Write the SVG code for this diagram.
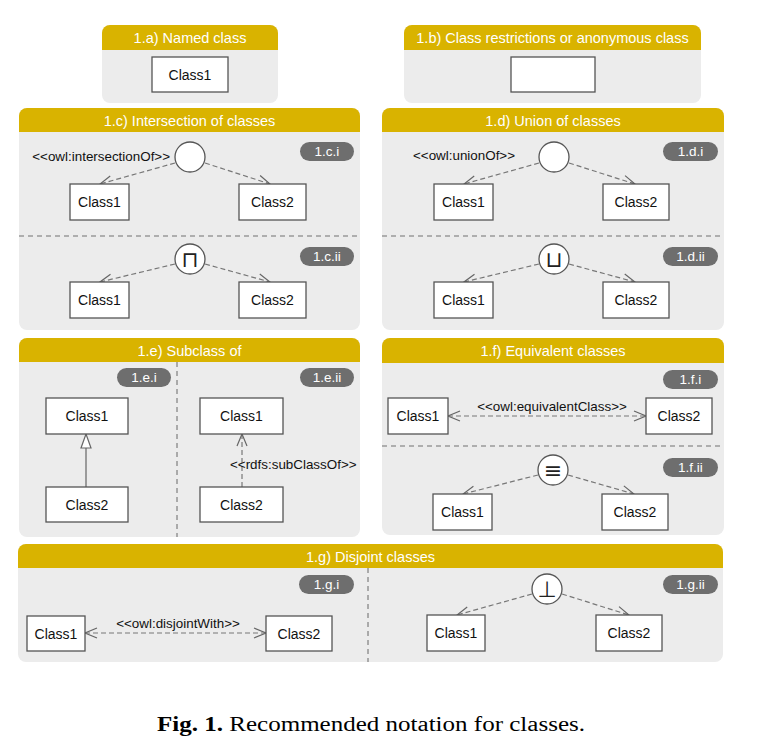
<svg xmlns="http://www.w3.org/2000/svg" width="765" height="745" viewBox="0 0 765 745">
<style>
.panel{fill:#ececec}
.hdr{fill:#d9b300}
.htxt{font-family:"Liberation Sans",Arial,sans-serif;font-size:14.5px;fill:#fff;text-anchor:middle}
.box{fill:#fff;stroke:#555;stroke-width:1.3}
.ctxt{font-family:"Liberation Sans",Arial,sans-serif;font-size:14px;fill:#111;text-anchor:middle}
.stxt{font-family:"Liberation Sans",Arial,sans-serif;font-size:13.4px;fill:#111}
.badge{fill:#6e6e6e}
.btxt{font-family:"Liberation Sans",Arial,sans-serif;font-size:13.5px;fill:#fff;text-anchor:middle}
.sep{stroke:#999;stroke-width:1.6;stroke-dasharray:5,4;fill:none}
.dash{stroke:#777;stroke-width:1.2;stroke-dasharray:5,3;fill:none}
.solid{stroke:#666;stroke-width:1.2;fill:none}
.circ{fill:#fff;stroke:#555;stroke-width:1.3}
.sym{font-family:"DejaVu Sans",sans-serif;font-size:22px;fill:#222;text-anchor:middle}
.cap{font-family:"Liberation Serif","Times New Roman",serif;font-size:20px;fill:#000}
</style>
<defs>
<marker id="open" markerWidth="14" markerHeight="12" refX="13" refY="6" orient="auto" markerUnits="userSpaceOnUse">
<path d="M1,1 L13,6 L1,11" fill="none" stroke="#666" stroke-width="1.2"/>
</marker>
<marker id="openStart" markerWidth="14" markerHeight="12" refX="1" refY="6" orient="auto" markerUnits="userSpaceOnUse">
<path d="M13,1 L1,6 L13,11" fill="none" stroke="#666" stroke-width="1.2"/>
</marker>
<marker id="tri" markerWidth="16" markerHeight="12" refX="15" refY="6" orient="auto" markerUnits="userSpaceOnUse">
<path d="M1,1 L15,6 L1,11 Z" fill="#fff" stroke="#666" stroke-width="1.2"/>
</marker>
</defs>

<!-- Panels -->
<g id="panel-1a">
<rect class="panel" x="102" y="25" width="176" height="78" rx="8"/>
<path class="hdr" d="M102,50 V33 A8,8 0 0 1 110,25 H270 A8,8 0 0 1 278,33 V50 Z"/>
<text class="htxt" x="190" y="43">1.a) Named class</text>
</g>
<g id="panel-1b">
<rect class="panel" x="404" y="25" width="297" height="78" rx="8"/>
<path class="hdr" d="M404,50 V33 A8,8 0 0 1 412,25 H693 A8,8 0 0 1 701,33 V50 Z"/>
<text class="htxt" x="552.5" y="43">1.b) Class restrictions or anonymous class</text>
</g>
<g id="panel-1c">
<rect class="panel" x="19" y="108" width="341" height="222" rx="8"/>
<path class="hdr" d="M19,132 V116 A8,8 0 0 1 27,108 H352 A8,8 0 0 1 360,116 V132 Z"/>
<text class="htxt" x="189.5" y="126">1.c) Intersection of classes</text>
<line class="sep" x1="19" y1="236" x2="360" y2="236"/>
<rect class="badge" x="300" y="142" width="54" height="19" rx="9.5"/>
<text class="btxt" x="327" y="156">1.c.i</text>
<rect class="badge" x="300" y="247" width="54" height="19" rx="9.5"/>
<text class="btxt" x="327" y="261">1.c.ii</text>
</g>
<g id="panel-1d">
<rect class="panel" x="382" y="108" width="342" height="222" rx="8"/>
<path class="hdr" d="M382,132 V116 A8,8 0 0 1 390,108 H716 A8,8 0 0 1 724,116 V132 Z"/>
<text class="htxt" x="553" y="126">1.d) Union of classes</text>
<line class="sep" x1="382" y1="236" x2="724" y2="236"/>
<rect class="badge" x="663" y="142" width="55" height="19" rx="9.5"/>
<text class="btxt" x="690.5" y="156">1.d.i</text>
<rect class="badge" x="663" y="247" width="55" height="19" rx="9.5"/>
<text class="btxt" x="690.5" y="261">1.d.ii</text>
</g>
<g id="panel-1e">
<rect class="panel" x="19" y="338" width="341" height="199" rx="8"/>
<path class="hdr" d="M19,362 V346 A8,8 0 0 1 27,338 H352 A8,8 0 0 1 360,346 V362 Z"/>
<text class="htxt" x="189.5" y="356">1.e) Subclass of</text>
<line class="sep" x1="177" y1="362" x2="177" y2="537"/>
<rect class="badge" x="117" y="368" width="54" height="19" rx="9.5"/>
<text class="btxt" x="144" y="382">1.e.i</text>
<rect class="badge" x="300" y="368" width="54" height="19" rx="9.5"/>
<text class="btxt" x="327" y="382">1.e.ii</text>
</g>
<g id="panel-1f">
<rect class="panel" x="382" y="338" width="342" height="197" rx="8"/>
<path class="hdr" d="M382,363 V346 A8,8 0 0 1 390,338 H716 A8,8 0 0 1 724,346 V363 Z"/>
<text class="htxt" x="553" y="356">1.f) Equivalent classes</text>
<line class="sep" x1="382" y1="446" x2="724" y2="446"/>
<rect class="badge" x="663" y="370" width="55" height="19" rx="9.5"/>
<text class="btxt" x="690.5" y="384">1.f.i</text>
<rect class="badge" x="663" y="458" width="55" height="19" rx="9.5"/>
<text class="btxt" x="690.5" y="472">1.f.ii</text>
</g>
<g id="panel-1g">
<rect class="panel" x="18" y="544" width="705" height="118" rx="8"/>
<path class="hdr" d="M18,568 V552 A8,8 0 0 1 26,544 H715 A8,8 0 0 1 723,552 V568 Z"/>
<text class="htxt" x="370.5" y="562">1.g) Disjoint classes</text>
<line class="sep" x1="368" y1="568" x2="368" y2="662"/>
<rect class="badge" x="299" y="575" width="55" height="19" rx="9.5"/>
<text class="btxt" x="326.5" y="589">1.g.i</text>
<rect class="badge" x="663" y="575" width="55" height="19" rx="9.5"/>
<text class="btxt" x="690.5" y="589">1.g.ii</text>
</g>

<!-- Connectors -->
<g id="connectors">
<line class="dash" x1="175" y1="163" x2="100" y2="184" marker-end="url(#open)"/>
<line class="dash" x1="205" y1="163" x2="270" y2="184" marker-end="url(#open)"/>
<line class="dash" x1="175" y1="264" x2="100" y2="282" marker-end="url(#open)"/>
<line class="dash" x1="205" y1="264" x2="270" y2="282" marker-end="url(#open)"/>
<line class="dash" x1="539" y1="163" x2="464" y2="184" marker-end="url(#open)"/>
<line class="dash" x1="569" y1="163" x2="635" y2="184" marker-end="url(#open)"/>
<line class="dash" x1="539" y1="264" x2="464" y2="282" marker-end="url(#open)"/>
<line class="dash" x1="569" y1="264" x2="635" y2="282" marker-end="url(#open)"/>
<line class="solid" x1="86" y1="487" x2="86" y2="434" marker-end="url(#tri)"/>
<line class="dash" x1="242" y1="487" x2="242" y2="434" marker-end="url(#open)"/>
<line class="dash" x1="448" y1="416" x2="646" y2="416" marker-start="url(#openStart)" marker-end="url(#open)"/>
<line class="dash" x1="538" y1="475" x2="463" y2="494" marker-end="url(#open)"/>
<line class="dash" x1="568" y1="475" x2="634" y2="494" marker-end="url(#open)"/>
<line class="dash" x1="85" y1="633" x2="266" y2="633" marker-start="url(#openStart)" marker-end="url(#open)"/>
<line class="dash" x1="532" y1="594" x2="457" y2="615" marker-end="url(#open)"/>
<line class="dash" x1="562" y1="594" x2="629" y2="615" marker-end="url(#open)"/>
</g>

<!-- Nodes -->
<g id="n1a-class1"><rect class="box" x="152" y="57" width="76" height="35"/><text class="ctxt" x="190" y="79.5">Class1</text></g>
<g id="n1b-anon"><rect class="box" x="511" y="57" width="84" height="35"/></g>

<g id="n1ci-op"><circle class="circ" cx="190" cy="157" r="15"/><text class="stxt" x="170" y="161" text-anchor="end">&lt;&lt;owl:intersectionOf&gt;&gt;</text></g>
<g id="n1ci-class1"><rect class="box" x="70" y="184" width="59" height="36"/><text class="ctxt" x="99.5" y="207">Class1</text></g>
<g id="n1ci-class2"><rect class="box" x="239" y="184" width="67" height="36"/><text class="ctxt" x="272.5" y="207">Class2</text></g>
<g id="n1cii-op"><circle class="circ" cx="190" cy="259" r="15"/><text class="sym" x="190" y="267">⊓</text></g>
<g id="n1cii-class1"><rect class="box" x="70" y="282" width="59" height="36"/><text class="ctxt" x="99.5" y="305">Class1</text></g>
<g id="n1cii-class2"><rect class="box" x="239" y="282" width="67" height="36"/><text class="ctxt" x="272.5" y="305">Class2</text></g>

<g id="n1di-op"><circle class="circ" cx="554" cy="157" r="15"/><text class="stxt" x="413" y="160">&lt;&lt;owl:unionOf&gt;&gt;</text></g>
<g id="n1di-class1"><rect class="box" x="434" y="184" width="59" height="36"/><text class="ctxt" x="463.5" y="207">Class1</text></g>
<g id="n1di-class2"><rect class="box" x="603" y="184" width="66" height="36"/><text class="ctxt" x="636" y="207">Class2</text></g>
<g id="n1dii-op"><circle class="circ" cx="554" cy="259" r="15"/><text class="sym" x="554" y="267">⊔</text></g>
<g id="n1dii-class1"><rect class="box" x="434" y="282" width="59" height="36"/><text class="ctxt" x="463.5" y="305">Class1</text></g>
<g id="n1dii-class2"><rect class="box" x="603" y="282" width="66" height="36"/><text class="ctxt" x="636" y="305">Class2</text></g>

<g id="n1ei-class1"><rect class="box" x="46" y="398" width="82" height="36"/><text class="ctxt" x="87" y="421">Class1</text></g>
<g id="n1ei-class2"><rect class="box" x="46" y="487" width="82" height="35"/><text class="ctxt" x="87" y="509.5">Class2</text></g>
<g id="n1eii-class1"><rect class="box" x="200" y="398" width="83" height="36"/><text class="ctxt" x="241.5" y="421">Class1</text></g>
<g id="n1eii-class2"><rect class="box" x="200" y="487" width="83" height="35"/><text class="ctxt" x="241.5" y="509.5">Class2</text></g>
<text class="stxt" x="230" y="469">&lt;&lt;rdfs:subClassOf&gt;&gt;</text>

<g id="n1fi-class1"><rect class="box" x="388" y="398" width="60" height="36"/><text class="ctxt" x="418" y="421">Class1</text></g>
<g id="n1fi-class2"><rect class="box" x="646" y="398" width="66" height="36"/><text class="ctxt" x="679" y="421">Class2</text></g>
<text class="stxt" x="552" y="411" text-anchor="middle">&lt;&lt;owl:equivalentClass&gt;&gt;</text>
<g id="n1fii-op"><circle class="circ" cx="553" cy="470" r="15"/><text class="sym" x="553" y="478">≡</text></g>
<g id="n1fii-class1"><rect class="box" x="433" y="494" width="59" height="36"/><text class="ctxt" x="462.5" y="517">Class1</text></g>
<g id="n1fii-class2"><rect class="box" x="602" y="494" width="66" height="36"/><text class="ctxt" x="635" y="517">Class2</text></g>

<g id="n1gi-class1"><rect class="box" x="27" y="616" width="58" height="35"/><text class="ctxt" x="56" y="638.5">Class1</text></g>
<g id="n1gi-class2"><rect class="box" x="266" y="616" width="66" height="35"/><text class="ctxt" x="299" y="638.5">Class2</text></g>
<text class="stxt" x="178" y="628" text-anchor="middle">&lt;&lt;owl:disjointWith&gt;&gt;</text>
<g id="n1gii-op"><circle class="circ" cx="547" cy="589" r="15"/><text class="sym" x="547" y="597">⊥</text></g>
<g id="n1gii-class1"><rect class="box" x="427" y="615" width="58" height="36"/><text class="ctxt" x="456" y="638">Class1</text></g>
<g id="n1gii-class2"><rect class="box" x="596" y="615" width="66" height="36"/><text class="ctxt" x="629" y="638">Class2</text></g>

<text class="cap" x="157" y="731" textLength="428" lengthAdjust="spacingAndGlyphs"><tspan font-weight="bold">Fig. 1.</tspan> Recommended notation for classes.</text>
</svg>
